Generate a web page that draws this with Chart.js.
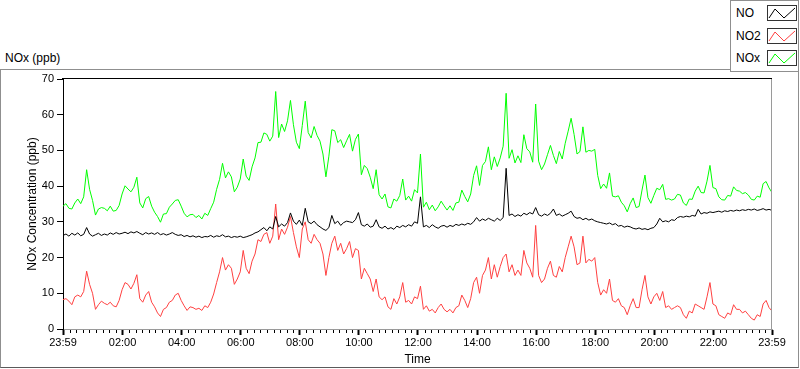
<!DOCTYPE html>
<html>
<head>
<meta charset="utf-8">
<script src="https://cdn.jsdelivr.net/npm/chart.js@4.4.1/dist/chart.umd.min.js"></script>
<style>
  html, body { margin:0; padding:0; background:#fff; }
  body { width:800px; height:369px; overflow:hidden; position:relative; font-family:"Liberation Sans", Arial, sans-serif; }
  #frame { position:absolute; left:0; top:69px; width:797px; height:297px; border:1px solid #8f8f8f; border-bottom-color:#5a5a5a; }
  #unit { position:absolute; left:5px; top:51px; font-size:12px; color:#000; }
  #chart { position:absolute; left:0; top:0; }
  #legend { position:absolute; left:730px; top:0; width:67px; height:70px; border:1px solid #8f8f8f; background:#fff; }
  .row { position:absolute; left:0; width:67px; height:17px; }
  .row span { position:absolute; left:5px; top:1px; font-size:12px; color:#000; }
  .row svg { position:absolute; left:36px; top:0; }
</style>
</head>
<body>
<div id="frame"></div>
<div id="unit">NOx (ppb)</div>
<canvas id="chart" width="800" height="369"></canvas>
<div id="legend">
  <div class="row" style="top:4px"><span>NO</span><svg width="31" height="17"><rect x="0.5" y="0.5" width="29" height="15" fill="#fff" stroke="#333"/><polyline points="2,13 8,4 17,13 28,3" fill="none" stroke="#000" stroke-width="1"/></svg></div>
  <div class="row" style="top:27px"><span>NO2</span><svg width="31" height="17"><rect x="0.5" y="0.5" width="29" height="15" fill="#fff" stroke="#333"/><polyline points="2,13 8,4 17,13 28,3" fill="none" stroke="#ff4040" stroke-width="1"/></svg></div>
  <div class="row" style="top:49px"><span>NOx</span><svg width="31" height="17"><rect x="0.5" y="0.5" width="29" height="15" fill="#fff" stroke="#333"/><polyline points="2,13 8,4 17,13 28,3" fill="none" stroke="#00ff00" stroke-width="1"/></svg></div>
</div>
<script>
// ---- data (one sample every 6 minutes, starting 23:59) ----
const SAMPLE_MINUTES = 6;
const noValues = [
26.2,26.6,26.0,26.8,26.3,26.9,26.1,26.5,28.4,26.6,
26.0,26.4,26.8,26.2,26.6,26.3,26.9,26.5,27.0,26.6,
26.8,27.1,26.7,27.2,26.9,27.3,26.8,26.4,27.0,26.6,
26.9,26.5,27.0,26.4,26.7,26.3,26.6,27.0,26.5,26.2,
26.4,25.9,26.2,25.8,26.1,25.7,26.0,25.6,25.9,
25.8,26.2,25.7,26.1,25.9,26.4,25.8,26.0,25.6,25.9,
25.7,26.0,25.6,25.8,26.1,26.4,26.9,27.2,27.8,28.4,
27.5,28.6,28.0,31.5,28.6,29.4,28.8,29.8,32.5,30.2,
29.3,30.5,29.0,33.8,30.0,29.5,30.2,29.2,28.6,28.0,
27.6,28.4,31.8,29.5,30.2,29.0,29.8,30.2,
30.0,29.8,30.6,32.6,29.2,28.8,29.4,28.5,28.8,30.6,
28.6,28.2,28.8,28.0,28.4,27.9,28.8,28.4,29.0,28.6,
29.2,28.8,30.0,29.6,37.0,28.6,29.0,28.4,29.2,28.6,
28.2,28.8,29.0,28.5,29.0,28.7,29.3,29.0,29.4,29.1,
29.6,29.3,30.0,31.2,30.2,30.8,30.4,31.0,
30.6,30.2,31.0,30.4,31.2,45.0,31.8,32.2,31.5,32.0,
31.6,32.4,32.0,32.6,32.2,34.0,32.0,31.6,32.2,31.8,
32.4,33.6,31.8,32.2,31.6,32.0,32.4,33.0,31.5,31.0,
31.2,30.6,31.0,30.5,30.8,30.3,30.0,29.8,29.6,29.4,
29.7,29.2,29.5,28.8,29.0,28.5,28.8,28.6,
28.2,28.0,28.3,27.9,28.1,27.8,28.2,28.4,29.4,31.0,
30.0,30.3,30.0,30.6,30.4,31.2,31.5,31.3,31.6,31.4,
31.8,31.6,33.5,32.2,32.6,32.4,32.8,32.6,32.8,33.0,
32.7,33.1,32.9,33.2,33.0,33.3,33.1,33.4,33.2,33.5,
33.3,33.6,33.2,33.4,33.7,33.3,33.5,33.2
];
const no2Values = [
8.2,8.5,7.8,6.8,9.0,9.5,9.0,10.5,16.2,12.5,
10,5.5,6.8,7.8,7.2,6.8,7.5,6.5,6.2,8,
11,13,12.5,11.2,12.8,15.2,8.5,7.5,9.5,10.5,
7.5,6.2,4.5,3.5,5.5,6.0,7.5,8.0,9.5,10.0,
8.0,6.5,5.2,6.2,6.0,5.5,5.8,5.2,6.5,
6.0,7.5,9.8,13,16,20,16.5,18,17,12.5,
14,16,22,17,15.5,19,21,25,24.5,26.5,
27,24,26,35,25,28,26.5,28.5,31.5,27,
23,20,28,30,25,24,26.5,25,24,21,
15,20,24,26,22,24,21,22.5,
24.5,20,22.5,22,14,17,15.5,14,10.5,14,
9,8.2,9,6.2,5.5,8.5,7,9,13,7.5,
8,7,9,8.5,12,5.5,6.5,5,5.5,4.5,
6,7,5.5,4.8,5.5,4.5,6,6.5,9.5,8,
6,8.5,13,14.5,10,15,16.5,20,
14,18,14.5,17.5,20,21,16,18,15,16.5,
15,22,18.5,17,14.5,29,15,13,14,17,
19,15,14.5,17.5,16,20,23,26,23,18,
18.5,26,18.5,19.5,19,20,13,9.5,11,10,
14,8,7.5,8.5,6.5,6,4,6.5,
8.5,6,6,11,15,9,7,9,10,8,
10.5,6,6.5,5.5,6,6.5,6,4,3,5,
4.5,7,6.5,6,5.5,9,13,7,6.5,4,
3.5,3,4.5,4,6.8,5.5,5.5,4.5,5,4,
3,2.5,4,3.5,7,8,6,5
];
const noxValues = [
34.4,35.1,33.8,33.6,35.3,36.4,35.1,37.0,44.6,39.1,
36.0,31.9,33.6,34.0,33.8,33.1,34.4,33.0,33.2,34.6,
37.8,40.1,39.2,38.4,39.7,42.5,35.3,33.9,36.5,37.1,
34.4,32.7,31.5,29.9,32.2,32.3,34.1,35.0,36.0,36.2,
34.4,32.4,31.4,32.0,32.1,31.2,31.8,30.8,32.4,
31.8,33.7,35.5,39.1,41.9,46.4,42.3,44.0,42.6,38.4,
39.7,42.0,47.6,42.8,41.6,45.4,47.9,52.2,52.3,54.9,
54.5,52.6,54.0,66.5,53.6,57.4,55.3,58.3,64.0,57.2,
52.3,50.5,57.0,63.8,55.0,53.5,56.7,54.2,52.6,49.0,
42.6,48.4,55.8,55.5,52.2,53.0,50.8,52.7,
54.5,49.8,53.1,54.6,43.2,45.8,44.9,42.5,39.3,44.6,
37.6,36.4,37.8,34.2,33.9,36.4,35.8,37.4,42.0,36.1,
37.2,35.8,39.0,38.1,49.0,34.1,35.5,33.4,34.7,33.1,
34.2,35.8,34.5,33.3,34.5,33.2,35.3,35.5,38.9,37.1,
35.6,37.8,43.0,45.7,40.2,45.8,46.9,51.0,
44.6,48.2,45.5,47.9,51.2,66.0,47.8,50.2,46.5,48.5,
46.6,54.4,50.5,49.6,46.7,63.0,47.0,44.6,46.2,48.8,
51.4,48.6,46.3,49.7,47.6,52.0,55.4,59.0,54.5,49.0,
49.7,56.6,49.5,50.0,49.8,50.3,43.0,39.3,40.6,39.4,
43.7,37.2,37.0,37.3,35.5,34.5,32.8,35.1,
36.7,34.0,34.3,38.9,43.1,36.8,35.2,37.4,39.4,39.0,
40.5,36.3,36.5,36.1,36.4,37.7,37.5,35.3,34.6,36.4,
36.3,38.6,40.0,38.2,38.1,41.4,45.8,39.6,39.3,37.0,
36.2,36.1,37.4,37.2,39.8,38.8,38.6,37.9,38.2,37.5,
36.3,36.1,37.2,36.9,40.7,41.3,39.5,38.2
];
// x tick positions (minutes after 23:59) and their labels
const xTickMinutes = [0,121,241,361,481,601,721,841,961,1081,1201,1321,1440];
const xTickLabels = ['23:59','02:00','04:00','06:00','08:00','10:00','12:00','14:00','16:00','18:00','20:00','22:00','23:59'];
const yTickValues = [0,10,20,30,40,50,60,70];
const MINOR_PER_MAJOR = 8;

const toPts = arr => arr.map((v, i) => ({x: i * SAMPLE_MINUTES, y: v}));
const tickFont = {family: '"Liberation Sans", Arial, sans-serif', size: 11};
const titleFont = {family: '"Liberation Sans", Arial, sans-serif', size: 12};

const framePlugin = {
  id: 'framePlugin',
  afterDraw(chart) {
    const {ctx, chartArea: a, scales: {x}} = chart;
    ctx.save();
    // top (dark) and right (light) plot borders
    ctx.lineWidth = 1;
    ctx.strokeStyle = '#000';
    ctx.beginPath(); ctx.moveTo(a.left - 1, a.top - 0.5); ctx.lineTo(a.right, a.top - 0.5); ctx.stroke();
    ctx.strokeStyle = '#9a9a9a';
    ctx.beginPath(); ctx.moveTo(a.right - 0.5, a.top); ctx.lineTo(a.right - 0.5, a.bottom + 1); ctx.stroke();
    // minor ticks on time axis
    ctx.strokeStyle = '#000';
    ctx.beginPath();
    for (let j = 0; j < xTickMinutes.length - 1; j++) {
      const m0 = xTickMinutes[j], m1 = xTickMinutes[j + 1];
      for (let i = 1; i <= MINOR_PER_MAJOR; i++) {
        const px = Math.round(x.getPixelForValue(m0 + (m1 - m0) * i / (MINOR_PER_MAJOR + 1))) + 0.5;
        ctx.moveTo(px, a.bottom + 1);
        ctx.lineTo(px, a.bottom + 4);
      }
    }
    ctx.stroke();
    ctx.restore();
  }
};

new Chart(document.getElementById('chart'), {
  type: 'line',
  data: {
    datasets: [
      {label: 'NO', data: toPts(noValues), borderColor: '#000000', borderWidth: 1},
      {label: 'NO2', data: toPts(no2Values), borderColor: '#ff4040', borderWidth: 1},
      {label: 'NOx', data: toPts(noxValues), borderColor: '#00ff00', borderWidth: 1}
    ]
  },
  options: {
    responsive: false,
    animation: false,
    devicePixelRatio: 1,
    parsing: false,
    elements: {point: {radius: 0}, line: {tension: 0}},
    layout: {padding: {top: 79, right: 28, left: 0, bottom: 0}},
    plugins: {legend: {display: false}, tooltip: {enabled: false}},
    scales: {
      x: {
        type: 'linear', min: 0, max: 1440,
        afterBuildTicks: s => { s.ticks = xTickMinutes.map(v => ({value: v})); },
        afterFit: s => { s.height = 40; },
        ticks: {
          autoSkip: false, maxRotation: 0, minRotation: 0, color: '#000', font: tickFont, padding: 1,
          callback: v => xTickLabels[xTickMinutes.indexOf(v)]
        },
        grid: {drawOnChartArea: false, tickLength: 6, tickWidth: 2, tickColor: '#000'},
        border: {color: '#9a9a9a', width: 1},
        title: {display: true, text: 'Time', color: '#000', font: titleFont, padding: {top: 0, bottom: 2}}
      },
      y: {
        min: 0, max: 70,
        afterBuildTicks: s => { s.ticks = yTickValues.map(v => ({value: v})); },
        afterFit: s => { s.width = 63; },
        ticks: {color: '#000', font: tickFont, padding: 3},
        grid: {drawOnChartArea: false, tickLength: 6, tickColor: '#000'},
        border: {color: '#000', width: 1},
        title: {display: true, text: 'NOx Concentration (ppb)', color: '#000', font: titleFont, padding: {top: 25, bottom: 0}}
      }
    }
  },
  plugins: [framePlugin]
});
</script>
</body>
</html>
